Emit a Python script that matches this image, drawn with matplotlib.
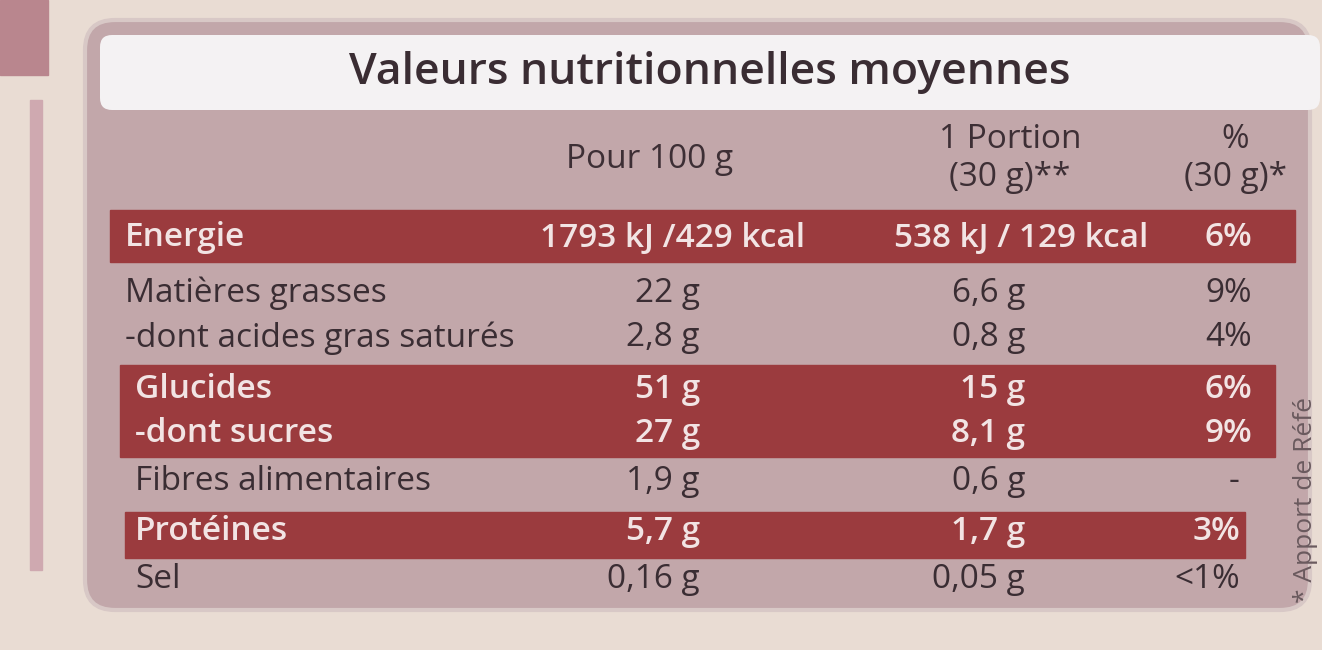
import matplotlib
matplotlib.use("Agg")
import matplotlib.pyplot as plt
from matplotlib.patches import FancyBboxPatch, Rectangle

title = "Valeurs nutritionnelles moyennes"
headers = ["Pour 100 g", "1 Portion\n(30 g)**", "%\n(30 g)*"]
nutrients = ["Energie", "Matières grasses", "-dont acides gras saturés", "Glucides",
             "-dont sucres", "Fibres alimentaires", "Protéines", "Sel"]
per100 = ["1793 kJ /429 kcal", "22 g", "2,8 g", "51 g", "27 g", "1,9 g", "5,7 g", "0,16 g"]
portion = ["538 kJ / 129 kcal", "6,6 g", "0,8 g", "15 g", "8,1 g", "0,6 g", "1,7 g", "0,05 g"]
pct = ["6%", "9%", "4%", "6%", "9%", "-", "3%", "<1%"]
highlight = [True, False, False, True, True, False, True, False]

W, H = 1322, 650
fig = plt.figure(figsize=(W/100, H/100), dpi=100)
ax = fig.add_axes([0, 0, 1, 1])
ax.set_xlim(0, W); ax.set_ylim(H, 0); ax.axis("off")
fig.patch.set_facecolor("#e9dcd3")

ax.add_patch(Rectangle((0, 0), 48, 75, color="#b9868e"))
ax.add_patch(Rectangle((30, 100), 12, 470, color="#cfa9b0"))
ax.add_patch(FancyBboxPatch((85, 20), 1225, 590, boxstyle="round,pad=0,rounding_size=30",
                            fc="#c2a7aa", ec="#d8c8c6", lw=3))
ax.add_patch(FancyBboxPatch((100, 35), 1220, 75, boxstyle="round,pad=0,rounding_size=12",
                            fc="#f4f2f3", ec="none"))
ax.text(710, 72, title, ha="center", va="center", fontsize=32, color="#3a2d33",
        family="Open Sans", weight="semibold")

ax.text(650, 160, headers[0], ha="center", va="center", fontsize=24, color="#3d2f35", family="Open Sans")
ax.text(1010, 158, headers[1], ha="center", va="center", fontsize=24, color="#3d2f35", family="Open Sans", linespacing=1.2)
ax.text(1235, 158, headers[2], ha="center", va="center", fontsize=24, color="#3d2f35", family="Open Sans", linespacing=1.2)

ys = [238, 293, 338, 389, 433, 482, 532, 580]
bands = [(110, 210, 1185, 52), (120, 365, 1155, 92), (125, 512, 1120, 46)]
for x, y, w, h in bands:
    ax.add_patch(Rectangle((x, y), w, h, color="#9b3b3e"))

for i, y in enumerate(ys):
    c = "#f2e4e4" if highlight[i] else "#3a2d33"
    wt = "semibold" if highlight[i] else "normal"
    fs = 24
    ax.text(125 + (10 if i >= 3 else 0), y, nutrients[i], ha="left", va="center", fontsize=fs, color=c,
            family="Open Sans", weight=wt)
    if i == 0:
        ax.text(805, y, per100[i], ha="right", va="center", fontsize=fs, color=c, family="Open Sans", weight=wt)
        ax.text(1148, y, portion[i], ha="right", va="center", fontsize=fs, color=c, family="Open Sans", weight=wt)
    else:
        ax.text(700, y, per100[i], ha="right", va="center", fontsize=fs, color=c, family="Open Sans", weight=wt)
        ax.text(1025, y, portion[i], ha="right", va="center", fontsize=fs, color=c, family="Open Sans", weight=wt)
    ax.text(1252 if i < 5 else 1240, y, pct[i], ha="right", va="center", fontsize=fs, color=c,
            family="Open Sans", weight=wt)

ax.text(1305, 500, "* Apport de Réfé", rotation=90, ha="center", va="center", fontsize=19,
        color="#6a5a5e", family="Open Sans")
fig.savefig("out.png", dpi=100, facecolor=fig.get_facecolor())
